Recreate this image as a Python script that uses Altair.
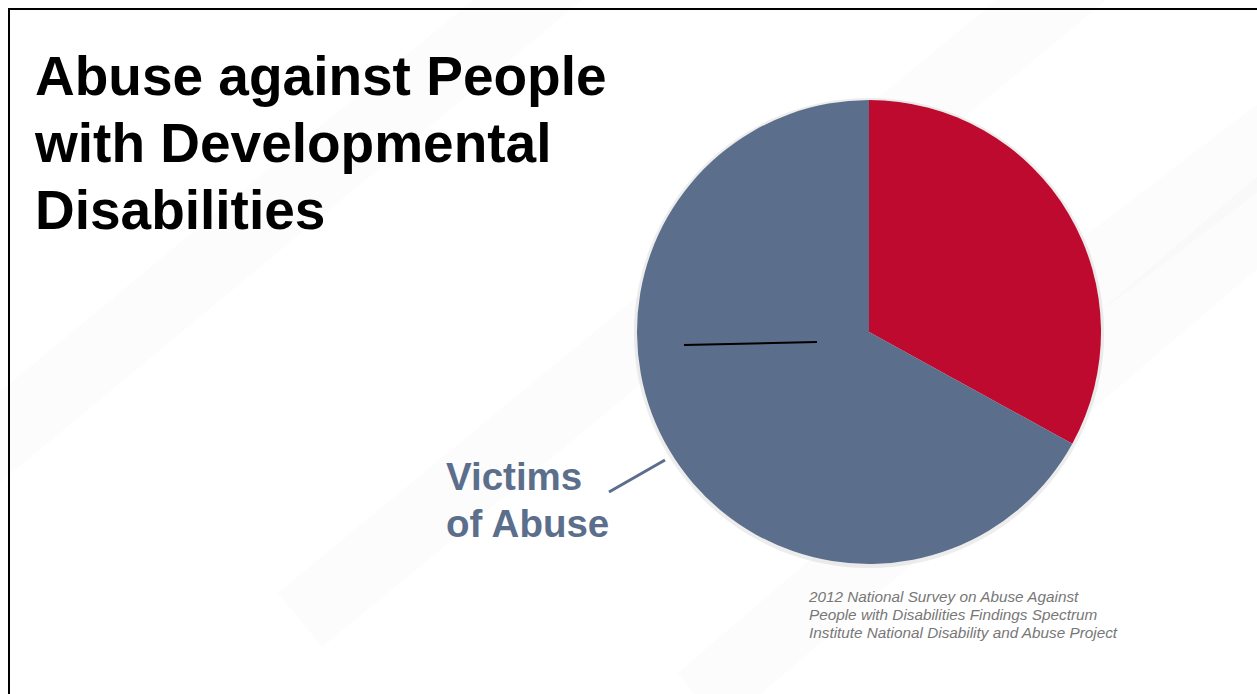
import altair as alt
import pandas as pd

# ---- data ----
categories = ["Not reported as victims", "Victims of Abuse"]
values = [33, 67]
slice_colors = ["#BE0A2F", "#5B6E8C"]

title_lines = ["Abuse against People", "with Developmental", "Disabilities"]
label_lines = ["Victims", "of Abuse"]
source_lines = [
    "2012 National Survey on Abuse Against",
    "People with Disabilities Findings Spectrum",
    "Institute National Disability and Abuse Project",
]

W, H = 1257, 694
CX, CY, R = 869, 332, 232

pie_df = pd.DataFrame({"category": categories, "value": values, "order": [0, 1]})
one = pd.DataFrame({"d": [0]})

# faint diagonal background bands
bands = pd.DataFrame({
    "x": [-100, 300, 700, 900],
    "y": [520, 620, 700, 420],
    "x2": [600, 1100, 1400, 1400],
    "y2": [-60, -40, 100, 40],
})
bg = alt.Chart(bands).mark_rule(strokeWidth=70, color="#eeeeee", opacity=0.18).encode(
    x=alt.X("x:Q", scale=alt.Scale(domain=[0, W], range=[0, W]), axis=None),
    y=alt.Y("y:Q", scale=alt.Scale(domain=[0, H], range=[0, H]), axis=None),
    x2="x2:Q", y2="y2:Q",
)

frame_top = alt.Chart(one).mark_rule(color="#000000", strokeWidth=2).encode(
    x=alt.value(8), x2=alt.value(W), y=alt.value(9), y2=alt.value(9))
frame_left = alt.Chart(one).mark_rule(color="#000000", strokeWidth=2).encode(
    x=alt.value(9), x2=alt.value(9), y=alt.value(8), y2=alt.value(H))

shadow = alt.Chart(one).mark_arc(color="#888888", opacity=0.15, radius=R + 3).encode(
    theta=alt.value(6.2832), x=alt.value(CX), y=alt.value(CY + 1))

pie = alt.Chart(pie_df).mark_arc(radius=R, stroke=None).encode(
    theta=alt.Theta("value:Q", stack=True),
    order=alt.Order("order:Q"),
    color=alt.Color("category:N", scale=alt.Scale(domain=categories, range=slice_colors), legend=None),
    x=alt.value(CX), y=alt.value(CY),
)

inner_line = alt.Chart(one).mark_rule(color="#000000", strokeWidth=2).encode(
    x=alt.value(684), y=alt.value(345), x2=alt.value(817), y2=alt.value(342))

leader = alt.Chart(one).mark_rule(color="#5B6E8C", strokeWidth=3).encode(
    x=alt.value(609), y=alt.value(492), x2=alt.value(665), y2=alt.value(460))

title = alt.Chart(pd.DataFrame({"t": ["\n".join(title_lines)]})).mark_text(
    align="left", baseline="alphabetic", font="Liberation Sans", fontWeight="bold",
    fontSize=55, lineHeight=67, color="#000000", lineBreak="\n",
).encode(text="t:N", x=alt.value(35), y=alt.value(95))

label = alt.Chart(pd.DataFrame({"t": ["\n".join(label_lines)]})).mark_text(
    align="left", baseline="alphabetic", font="Liberation Sans", fontWeight="bold",
    fontSize=38.5, lineHeight=47, color="#5B6E8C", lineBreak="\n",
).encode(text="t:N", x=alt.value(446), y=alt.value(490))

source = alt.Chart(pd.DataFrame({"t": ["\n".join(source_lines)]})).mark_text(
    align="left", baseline="alphabetic", font="Liberation Sans", fontStyle="italic",
    fontSize=15.3, lineHeight=18, color="#777777", lineBreak="\n",
).encode(text="t:N", x=alt.value(809), y=alt.value(602))

chart = alt.layer(bg, frame_top, frame_left, shadow, pie, inner_line, leader, title, label, source).properties(
    width=W, height=H, padding=0, autosize=alt.AutoSizeParams(type="none"), background="#ffffff",
).configure_view(stroke=None)

chart.save("out.html", embed_options={"renderer": "svg", "actions": False})
